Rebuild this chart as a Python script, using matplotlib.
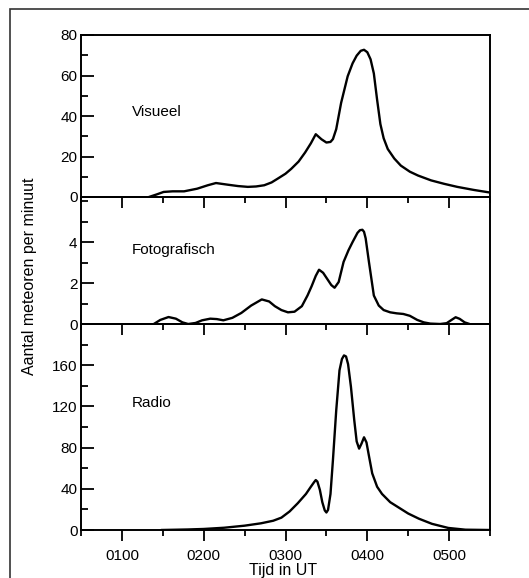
import matplotlib.pyplot as plt
from matplotlib.ticker import MultipleLocator, FixedLocator, FixedFormatter
from matplotlib.patches import Rectangle

plt.rcParams['font.family'] = ['Liberation Sans', 'DejaVu Sans']

# waarden (tijd in uren UT, aantal per minuut)
vis_t = [1.33, 1.42, 1.51, 1.62, 1.76, 1.92, 2.05, 2.15, 2.29, 2.42, 2.54, 2.64, 2.74,
         2.83, 2.91, 3.0, 3.07, 3.16, 3.24, 3.31, 3.37, 3.44, 3.5, 3.55, 3.58, 3.62,
         3.68, 3.76, 3.82, 3.87, 3.92, 3.96, 4.0, 4.04, 4.08, 4.12, 4.16, 4.2, 4.25,
         4.33, 4.41, 4.52, 4.62, 4.78, 4.94, 5.1, 5.3, 5.5]
vis_v = [0.0, 1.2, 2.5, 2.8, 2.8, 4.1, 5.8, 6.9, 6.1, 5.4, 5.0, 5.2, 5.8,
         7.2, 9.2, 11.5, 13.9, 17.5, 22.0, 26.5, 31.0, 28.5, 26.9, 27.2, 28.6, 33.5,
         46.5, 59.6, 66.0, 69.8, 72.2, 72.7, 71.5, 68.0, 61.0, 48.0, 36.0, 29.0, 23.7,
         19.0, 15.5, 12.5, 10.6, 8.2, 6.5, 5.0, 3.5, 2.2]

foto_t = [1.39, 1.47, 1.57, 1.66, 1.74, 1.81, 1.9, 1.98, 2.08, 2.16, 2.24, 2.35, 2.46,
          2.58, 2.71, 2.8, 2.87, 2.95, 3.03, 3.11, 3.2, 3.27, 3.32, 3.37, 3.41, 3.46,
          3.51, 3.56, 3.6, 3.65, 3.71, 3.77, 3.82, 3.88, 3.91, 3.94, 3.96, 3.98, 4.02,
          4.05, 4.08, 4.14, 4.2, 4.28, 4.36, 4.44, 4.52, 4.61, 4.69, 4.77, 4.89, 4.97,
          5.03, 5.08, 5.13, 5.19, 5.25]
foto_v = [0.0, 0.2, 0.34, 0.26, 0.08, 0.0, 0.05, 0.18, 0.26, 0.24, 0.18, 0.3, 0.54,
          0.9, 1.2, 1.1, 0.87, 0.68, 0.57, 0.6, 0.87, 1.4, 1.85, 2.35, 2.65, 2.5,
          2.2, 1.9, 1.77, 2.05, 3.03, 3.6, 4.0, 4.45, 4.58, 4.6, 4.5, 4.18, 3.03,
          2.21, 1.39, 0.9, 0.68, 0.57, 0.52, 0.49, 0.4, 0.2, 0.08, 0.02, 0.0, 0.04,
          0.2, 0.33, 0.25, 0.08, 0.0]

radio_t = [1.48, 1.8, 2.0, 2.25, 2.5, 2.7, 2.85, 2.95, 3.05, 3.15, 3.25, 3.31, 3.35,
           3.37, 3.39, 3.42, 3.45, 3.48, 3.5, 3.52, 3.55, 3.58, 3.62, 3.66, 3.69, 3.715,
           3.74, 3.765, 3.8, 3.84, 3.87, 3.9, 3.93, 3.96, 3.99, 4.02, 4.06, 4.12, 4.18,
           4.28, 4.38, 4.5, 4.63, 4.79, 4.99, 5.2, 5.5]
radio_v = [0.0, 0.5, 1.0, 2.2, 4.2, 6.5, 9.0, 12.0, 18.0, 26.0, 35.0, 42.0, 46.5,
           48.5, 47.0, 39.0, 27.0, 19.0, 17.0, 19.5, 35.0, 68.0, 116.0, 155.0, 166.0, 169.5,
           168.5, 161.0, 139.0, 107.0, 86.0, 79.0, 84.0, 90.0, 85.0, 72.0, 55.0, 42.0, 35.0,
           27.0, 22.0, 16.0, 11.0, 6.0, 2.0, 0.3, 0.0]

panels = [
    ('Visueel', vis_t, vis_v, 80, [0, 20, 40, 60, 80], 10, 42),
    ('Fotografisch', foto_t, foto_v, 6.2, [0, 2, 4], 1, 3.6),
    ('Radio', radio_t, radio_v, 200, [0, 40, 80, 120, 160], 20, 123),
]
xticks = [1, 2, 3, 4, 5]
xlabels = ['0100', '0200', '0300', '0400', '0500']

W, H = 529, 578
fig = plt.figure(figsize=(W / 100, H / 100), dpi=100)

# kader om de hele figuur
fig.add_artist(Rectangle((10 / W, -0.1), 1.2, 1.1 - 9 / H, transform=fig.transFigure,
                         fill=False, lw=1.2, ec='#333333'))

edges = [35, 197, 324, 530]
left, right = 81, 490
for i, (name, t, v, ytop, yt, ymin, ylab) in enumerate(panels):
    top, bot = edges[i], edges[i + 1]
    ax = fig.add_axes([left / W, 1 - bot / H, (right - left) / W, (bot - top) / H])
    ax.patch.set_alpha(0)
    ax.plot(t, v, color='black', lw=1.7, solid_joinstyle='round', solid_capstyle='round')
    ax.set_xlim(0.5, 5.5)
    ax.set_ylim(0, ytop)
    ax.xaxis.set_major_locator(FixedLocator(xticks))
    ax.xaxis.set_minor_locator(MultipleLocator(0.5))
    ax.yaxis.set_major_locator(FixedLocator(yt))
    ax.yaxis.set_minor_locator(MultipleLocator(ymin))
    ax.tick_params(axis='y', which='major', direction='in', length=9, width=1.3,
                   labelsize=11, pad=2.5)
    ax.tick_params(axis='y', which='minor', direction='in', length=5, width=1.3)
    ax.tick_params(axis='x', which='major', direction='out', length=8, width=1.3, pad=6)
    ax.tick_params(axis='x', which='minor', direction='out', length=4, width=1.3)
    if i < 2:
        ax.tick_params(axis='x', labelbottom=False)
    else:
        ax.xaxis.set_major_formatter(FixedFormatter(xlabels))
        ax.tick_params(axis='x', labelsize=11)
    for s in ax.spines.values():
        s.set_linewidth(1.4)
    ax.text(1.12, ylab, name, fontsize=11, va='center', ha='left')

fig.text(30 / W, 1 - 276 / H, 'Aantal meteoren per minuut', rotation=90,
         ha='center', va='center', fontsize=11.5)
fig.text(283 / W, 1 - 570 / H, 'Tijd in UT', ha='center', va='center', fontsize=11.5)

fig.savefig('out.png', dpi=100, facecolor='white')
